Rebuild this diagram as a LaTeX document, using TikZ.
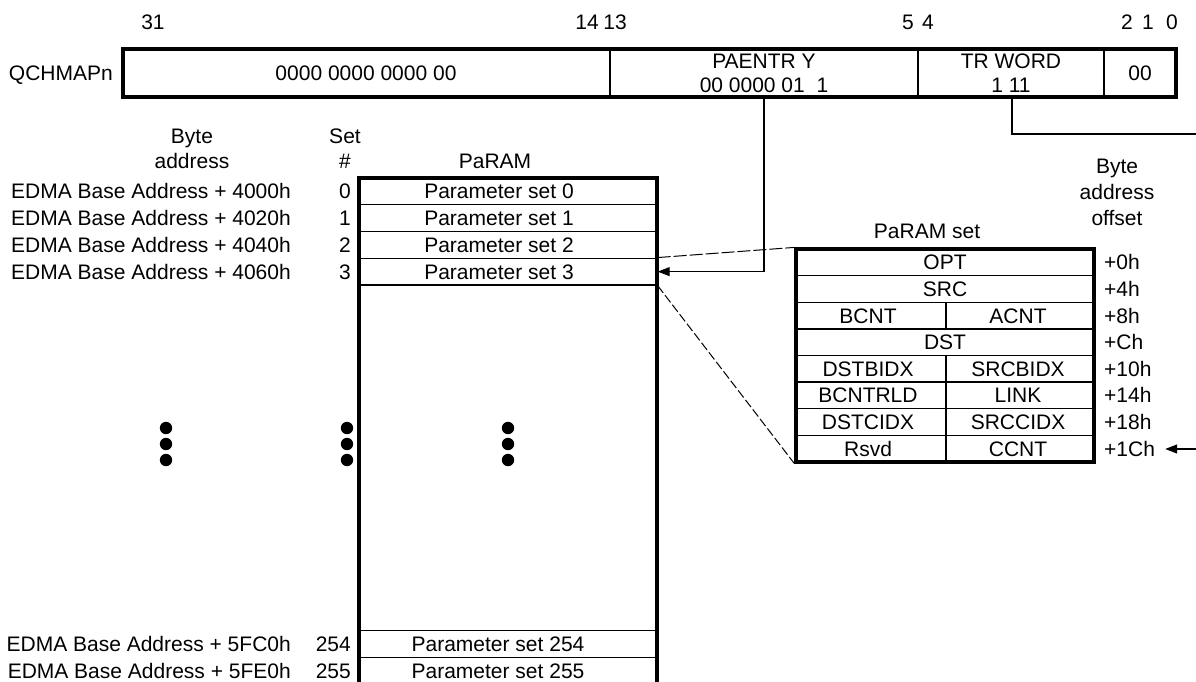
\documentclass[tikz,border=0pt]{standalone}
\usepackage{fontspec}
\setmainfont{Liberation Sans}
\usetikzlibrary{arrows.meta}
\begin{document}
\begin{tikzpicture}[x=1pt,y=-1pt,
  txt/.style={inner sep=0pt, text height=15pt, text depth=0pt, font=\fontsize{21}{25}\selectfont},
  thickline/.style={line width=3.2pt},
  thinline/.style={line width=1.4pt},
  conn/.style={line width=1.1pt},
  cell/.style={draw, line width=1.4pt, inner sep=0pt, minimum width=298pt, minimum height=26.75pt},
  pcell/.style={draw, line width=1.4pt, inner sep=0pt, minimum height=26.625pt},
  tip/.style={-{Triangle[length=12pt,width=9pt]}},
  dot/.style={fill=black, draw=none},
]
\useasboundingbox (0,0) rectangle (1196,681);

% ---------------- register ----------------
\node[txt] (b31) at (153,22) {31};
\node[txt] (b14) at (587,22) {14};
\node[txt] (b13) at (615,22) {13};
\node[txt] (b5) at (908,22) {5};
\node[txt] (b4) at (928,22) {4};
\node[txt] (b2) at (1127,22) {2};
\node[txt] (b1) at (1148,22) {1};
\node[txt] (b0) at (1172,22) {0};

\node[txt, anchor=east] (qname) at (113,73) {QCHMAPn};
\draw[thinline] (610,49) -- (610,97);
\draw[thinline] (918,49) -- (918,97);
\draw[thinline] (1104,49) -- (1104,97);
\node[draw, thickline, inner sep=0pt, minimum width=1053pt, minimum height=48pt] (reg) at (649.5,73) {};
\node[txt] (f1) at (366,73) {0000 0000 0000 00};
\node[txt] (f2a) at (764,61) {PAENTR Y};
\node[txt] (f2b) at (764,85) {00 0000 01\ \ 1};
\node[txt] (f3a) at (1011,61) {TR WORD};
\node[txt] (f3b) at (1011,85) {1 11};
\node[txt] (f4) at (1140,73) {00};

% ---------------- headers ----------------
\node[txt] (h1a) at (192,136) {Byte};
\node[txt] (h1b) at (192,161) {address};
\node[txt] (h2a) at (345,136) {Set};
\node[txt] (h2b) at (345,161) {\#};
\node[txt] (h3) at (495,161) {PaRAM};

% ---------------- PaRAM rows ----------------
\node[cell] (r0) at (508,191.375) {};
\node[cell] (r1) at (508,218.125) {};
\node[cell] (r2) at (508,244.875) {};
\node[cell] (r3) at (508,271.625) {};
\node[cell] (r254) at (508,644) {};
\node[cell] (r255) at (508,670.75) {};
\draw[thickline] (359,690) -- (359,178) -- (657,178) -- (657,690);

\node[txt] (t0) at (499,191.375) {Parameter set 0};
\node[txt] (t1) at (499,218.125) {Parameter set 1};
\node[txt] (t2) at (499,244.875) {Parameter set 2};
\node[txt] (t3) at (499,271.625) {Parameter set 3};
\node[txt] (t254) at (498,644) {Parameter set 254};
\node[txt] (t255) at (498,670.75) {Parameter set 255};

\node[txt, anchor=east] (n0) at (351,191.375) {0};
\node[txt, anchor=east] (n1) at (351,218.125) {1};
\node[txt, anchor=east] (n2) at (351,244.875) {2};
\node[txt, anchor=east] (n3) at (351,271.625) {3};
\node[txt, anchor=east] (n254) at (351,644) {254};
\node[txt, anchor=east] (n255) at (351,670.75) {255};

\node[txt, anchor=east] (a0) at (291,191.375) {EDMA Base Address + 4000h};
\node[txt, anchor=east] (a1) at (291,218.125) {EDMA Base Address + 4020h};
\node[txt, anchor=east] (a2) at (291,244.875) {EDMA Base Address + 4040h};
\node[txt, anchor=east] (a3) at (291,271.625) {EDMA Base Address + 4060h};
\node[txt, anchor=east] (a254) at (291,644) {EDMA Base Address + 5FC0h};
\node[txt, anchor=east] (a255) at (291,670.75) {EDMA Base Address + 5FE0h};

% dots
\foreach \xx in {166, 347, 508}{
  \foreach \yy in {428, 444, 460}{
    \fill[dot] (\xx,\yy) circle (6.2pt);
  }
}

% ---------------- PaRAM set ----------------
\node[txt] (psh) at (927,231) {PaRAM set};
\node[txt] (oh1) at (1117,166) {Byte};
\node[txt] (oh2) at (1117,192) {address};
\node[txt] (oh3) at (1117,218) {offset};

\node[pcell, minimum width=298pt] (p0) at (945,262.3125) {};
\node[pcell, minimum width=298pt] (p1) at (945,288.9375) {};
\node[pcell, minimum width=150pt] (p2l) at (871,315.5625) {};
\node[pcell, minimum width=148pt] (p2r) at (1020,315.5625) {};
\node[pcell, minimum width=298pt] (p3) at (945,342.1875) {};
\node[pcell, minimum width=150pt] (p4l) at (871,368.8125) {};
\node[pcell, minimum width=148pt] (p4r) at (1020,368.8125) {};
\node[pcell, minimum width=150pt] (p5l) at (871,395.4375) {};
\node[pcell, minimum width=148pt] (p5r) at (1020,395.4375) {};
\node[pcell, minimum width=150pt] (p6l) at (871,422.0625) {};
\node[pcell, minimum width=148pt] (p6r) at (1020,422.0625) {};
\node[pcell, minimum width=150pt] (p7l) at (871,448.6875) {};
\node[pcell, minimum width=148pt] (p7r) at (1020,448.6875) {};
\node[draw, thickline, inner sep=0pt, minimum width=298pt, minimum height=213pt] (ps) at (945,355.5) {};

\node[txt] (l0) at (945,262.3125) {OPT};
\node[txt] (l1) at (945,288.9375) {SRC};
\node[txt] (l2a) at (868,315.5625) {BCNT};
\node[txt] (l2b) at (1018,315.5625) {ACNT};
\node[txt] (l3) at (945,342.1875) {DST};
\node[txt] (l4a) at (868,368.8125) {DSTBIDX};
\node[txt] (l4b) at (1018,368.8125) {SRCBIDX};
\node[txt] (l5a) at (868,395.4375) {BCNTRLD};
\node[txt] (l5b) at (1018,395.4375) {LINK};
\node[txt] (l6a) at (868,422.0625) {DSTCIDX};
\node[txt] (l6b) at (1018,422.0625) {SRCCIDX};
\node[txt] (l7a) at (868,448.6875) {Rsvd};
\node[txt] (l7b) at (1018,448.6875) {CCNT};

\node[txt, anchor=west] (o0) at (1104,262.3125) {+0h};
\node[txt, anchor=west] (o1) at (1104,288.9375) {+4h};
\node[txt, anchor=west] (o2) at (1104,315.5625) {+8h};
\node[txt, anchor=west] (o3) at (1104,342.1875) {+Ch};
\node[txt, anchor=west] (o4) at (1104,368.8125) {+10h};
\node[txt, anchor=west] (o5) at (1104,395.4375) {+14h};
\node[txt, anchor=west] (o6) at (1104,422.0625) {+18h};
\node[txt, anchor=west] (o7) at (1104,448.6875) {+1Ch};

% ---------------- connectors ----------------
\coordinate (pe) at (764,97);
\draw[conn, tip] (pe) |- (r3.east);
\coordinate (tr) at (1012,97);
\coordinate (trout) at (1196,134);
\draw[conn] (tr) |- (trout);
\coordinate (trin) at (1196,449);
\draw[conn, tip] (trin) -- ([xshift=10pt]o7.east |- trin);

\draw[line width=1pt, dash pattern=on 13pt off 3pt] (r3.north east) -- (ps.north west);
\draw[line width=1pt, dash pattern=on 9pt off 3pt] (r3.south east) -- (ps.south west);
\end{tikzpicture}
\end{document}
